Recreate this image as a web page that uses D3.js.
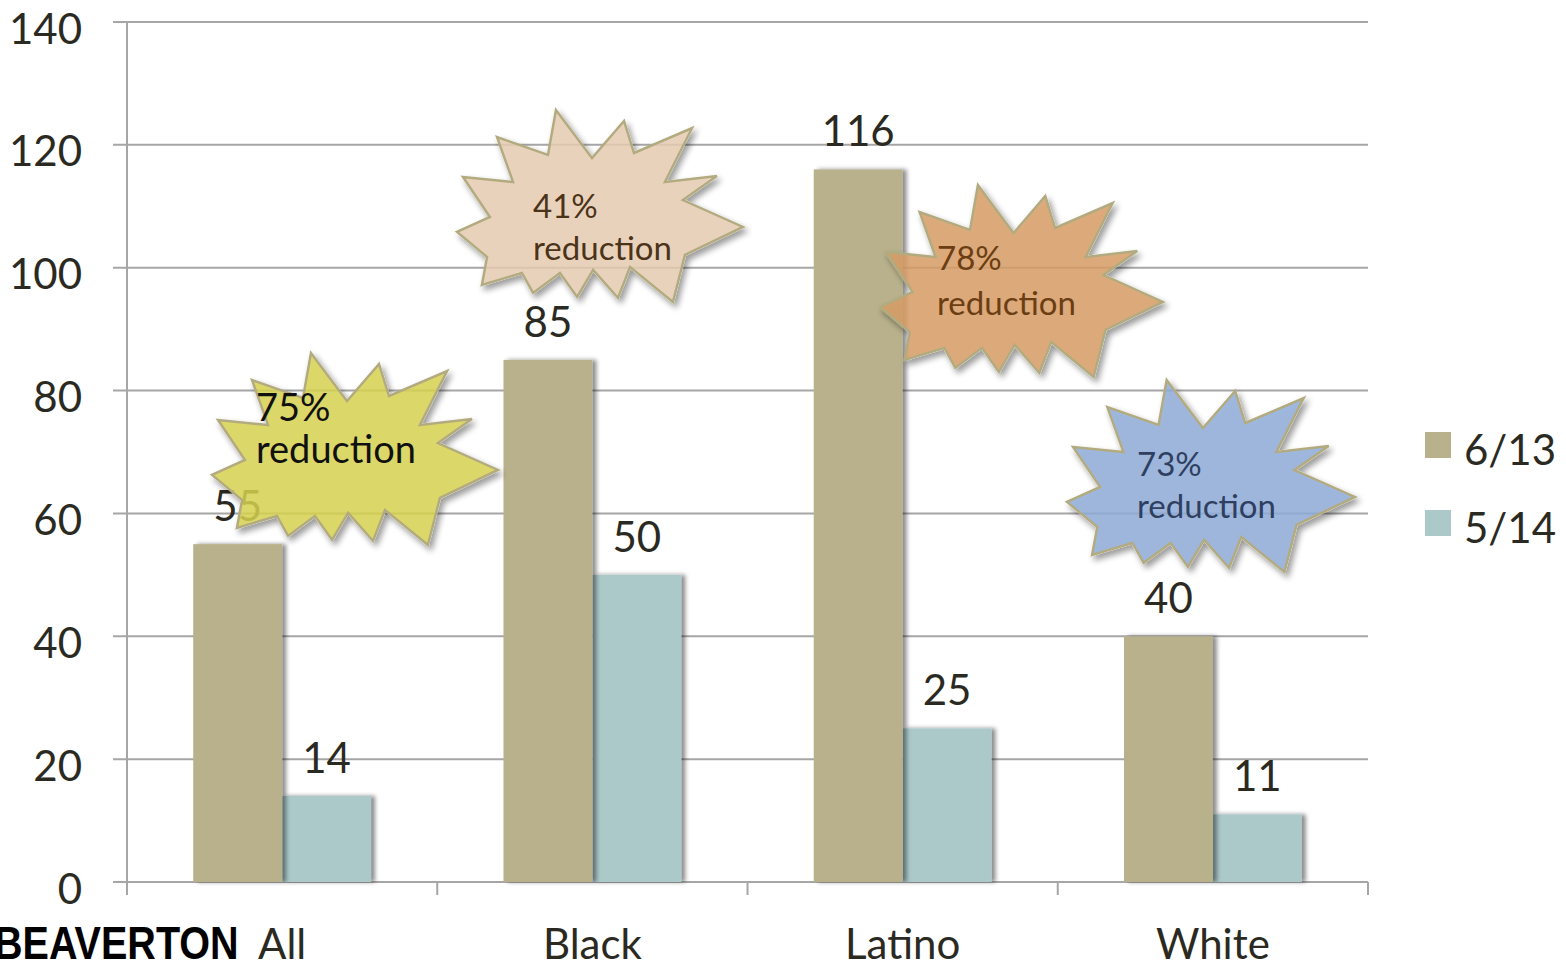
<!DOCTYPE html>
<html>
<head>
<meta charset="utf-8">
<script src="https://cdn.jsdelivr.net/npm/d3@7"></script>
<style>
  body { margin: 0; background: #fff; overflow: hidden; }
  svg { display: block; }
</style>
</head>
<body>
<svg id="chart" width="1566" height="965"></svg>
<script>
// data
const categories = ["All", "Black", "Latino", "White"];
const seriesNames = ["6/13", "5/14"];
const june13 = [55, 85, 116, 40];
const may14 = [14, 50, 25, 11];
const yTicks = [0, 20, 40, 60, 80, 100, 120, 140];
const calloutPct = ["75%", "41%", "78%", "73%"];
const calloutWord = "reduction";
const brand = "BEAVERTON";

// layout
const W = 1566, H = 965;
const margin = {top: 22, right: 198, bottom: 83, left: 127};
const textColor = "#2b2a22";
const gridColor = "#a6a6a6";
const barColors = ["#b8b18c", "#acc9ca"];

// explosion shape, normalised to its box (clockwise from top spike)
const burst = [
  [0.346, 0], [0.472, 0.25], [0.584, 0.057], [0.619, 0.224], [0.822, 0.094],
  [0.727, 0.375], [0.909, 0.344], [0.79, 0.469], [1, 0.609], [0.797, 0.755],
  [0.755, 1], [0.605, 0.818], [0.563, 0.979], [0.476, 0.833], [0.42, 0.974],
  [0.36, 0.849], [0.266, 0.953], [0.227, 0.849], [0.087, 0.911], [0.105, 0.766],
  [0, 0.635], [0.115, 0.557], [0.021, 0.349], [0.196, 0.375], [0.14, 0.141],
  [0.318, 0.234]
];
// callout boxes and text placement
const calloutLayout = [
  {x: 212, y: 353, w: 286, h: 192, fill: "#d6d14f", ink: "#111111", tx: 44, b1: 68, b2: 110, fs: 38},
  {x: 457, y: 110, w: 286, h: 192, fill: "#e6cbb2", ink: "#4b3319", tx: 76, b1: 108, b2: 150, fs: 33},
  {x: 880, y: 185, w: 283, h: 192, fill: "#d69c64", ink: "#6b3d12", tx: 57, b1: 85, b2: 130, fs: 33},
  {x: 1067, y: 380, w: 288, h: 192, fill: "#8eaad6", ink: "#2e3f61", tx: 70, b1: 96, b2: 138, fs: 33}
];

const svg = d3.select("#chart");
const defs = svg.append("defs");
defs.append("filter").attr("id", "barShadow")
  .attr("x", "-10%").attr("y", "-10%").attr("width", "130%").attr("height", "120%")
  .append("feDropShadow")
  .attr("dx", 4).attr("dy", 0).attr("stdDeviation", 2)
  .attr("flood-color", "#000").attr("flood-opacity", 0.45);

// shadow only outside the burst so the translucent fill stays light
const bf = defs.append("filter").attr("id", "burstShadow")
  .attr("x", "-10%").attr("y", "-10%").attr("width", "130%").attr("height", "130%");
bf.append("feGaussianBlur").attr("in", "SourceAlpha").attr("stdDeviation", 3).attr("result", "blur");
bf.append("feOffset").attr("in", "blur").attr("dx", 3).attr("dy", 4).attr("result", "off");
bf.append("feComponentTransfer").attr("in", "off").attr("result", "soft")
  .append("feFuncA").attr("type", "linear").attr("slope", 0.45);
bf.append("feComposite").attr("in", "soft").attr("in2", "SourceAlpha")
  .attr("operator", "out").attr("result", "shadow");
const bm = bf.append("feMerge");
bm.append("feMergeNode").attr("in", "shadow");
bm.append("feMergeNode").attr("in", "SourceGraphic");

const x0 = d3.scaleBand()
  .domain(categories)
  .range([margin.left, W - margin.right])
  .paddingInner(0.427)
  .paddingOuter(0.2135);
const x1 = d3.scaleBand()
  .domain(seriesNames)
  .range([0, x0.bandwidth()]);
const y = d3.scaleLinear()
  .domain([0, 140])
  .range([H - margin.bottom, margin.top]);

// grid lines
svg.append("g")
  .selectAll("line")
  .data(yTicks)
  .join("line")
    .attr("x1", margin.left - 14)
    .attr("x2", W - margin.right)
    .attr("y1", d => y(d))
    .attr("y2", d => y(d))
    .attr("stroke", gridColor)
    .attr("stroke-width", 2);

// y axis line
svg.append("line")
  .attr("x1", margin.left).attr("x2", margin.left)
  .attr("y1", y(140)).attr("y2", y(0) + 13)
  .attr("stroke", gridColor).attr("stroke-width", 2);

// category boundary ticks
const edges = d3.range(categories.length + 1).map(i => x0.range()[0] + i * x0.step());
svg.append("g")
  .selectAll("line")
  .data(edges)
  .join("line")
    .attr("x1", d => d).attr("x2", d => d)
    .attr("y1", y(0)).attr("y2", y(0) + 13)
    .attr("stroke", gridColor).attr("stroke-width", 2);

// y labels
const yAxis = svg.append("g")
  .attr("transform", `translate(${margin.left},0)`)
  .call(d3.axisLeft(y).tickValues(yTicks).tickSize(0).tickPadding(45));
yAxis.select(".domain").remove();
yAxis.selectAll("text")
  .attr("dy", "0.5em")
  .style("font-family", "Lato, sans-serif")
  .style("font-size", "42px")
  .attr("fill", textColor);

// x labels
const xAxis = svg.append("g")
  .attr("transform", `translate(0,${y(0)})`)
  .call(d3.axisBottom(x0).tickSize(0).tickPadding(77));
xAxis.select(".domain").remove();
xAxis.selectAll("text")
  .attr("dy", "0")
  .style("font-family", "Lato, sans-serif")
  .style("font-size", "42px")
  .attr("fill", textColor);

// bars
const rows = categories.map((c, i) => ({cat: c, values: [june13[i], may14[i]]}));
const groups = svg.append("g")
  .selectAll("g")
  .data(rows)
  .join("g")
    .attr("transform", d => `translate(${x0(d.cat)},0)`);

groups.selectAll("rect")
  .data(d => d.values.map((v, j) => ({key: seriesNames[j], v: v, j: j})).reverse())
  .join("rect")
    .attr("x", d => x1(d.key))
    .attr("y", d => y(d.v))
    .attr("width", x1.bandwidth())
    .attr("height", d => y(0) - y(d.v))
    .attr("fill", d => barColors[d.j])
    .attr("filter", "url(#barShadow)");

groups.selectAll("text")
  .data(d => d.values.map((v, j) => ({key: seriesNames[j], v: v})))
  .join("text")
    .attr("x", d => x1(d.key) + x1.bandwidth() / 2)
    .attr("y", d => y(d.v) - 23)
    .attr("text-anchor", "middle")
    .style("font-family", "Lato, sans-serif")
    .style("font-size", "42px")
    .attr("fill", textColor)
    .text(d => d.v);

// legend
const legend = svg.append("g")
  .attr("transform", "translate(1425,432)");
const item = legend.selectAll("g")
  .data(seriesNames)
  .join("g")
    .attr("transform", (d, i) => `translate(0,${i * 78})`);
item.append("rect")
  .attr("width", 26).attr("height", 26)
  .attr("fill", (d, i) => barColors[i]);
item.append("text")
  .attr("x", 39).attr("y", 33)
  .style("font-family", "Lato, sans-serif")
  .style("font-size", "42px")
  .attr("fill", textColor)
  .text(d => d);

// callout bursts
const bursts = svg.append("g")
  .selectAll("g")
  .data(calloutPct.map((p, i) => ({pct: p, ...calloutLayout[i]})))
  .join("g")
    .attr("transform", d => `translate(${d.x},${d.y})`);

bursts.append("path")
  .attr("d", d => d3.line()(burst.map(p => [p[0] * d.w, p[1] * d.h])) + "Z")
  .attr("fill", d => d.fill)
  .attr("fill-opacity", 0.85)
  .attr("stroke", "#b3ab80")
  .attr("stroke-width", 2.5)
  .attr("stroke-linejoin", "miter")
  .attr("filter", "url(#burstShadow)");

bursts.append("text")
  .attr("x", d => d.tx).attr("y", d => d.b1)
  .style("font-family", "Lato, sans-serif")
  .style("font-size", d => d.fs + "px")
  .attr("fill", d => d.ink)
  .text(d => d.pct);
bursts.append("text")
  .attr("x", d => d.tx).attr("y", d => d.b2)
  .style("font-family", "Lato, sans-serif")
  .style("font-size", d => d.fs + "px")
  .attr("fill", d => d.ink)
  .text(calloutWord);

// brand mark bottom left, squeezed horizontally
svg.append("text")
  .attr("transform", "translate(-6,959) scale(0.86,1)")
  .style("font-family", "'Liberation Sans', Arial, sans-serif")
  .style("font-weight", "bold")
  .style("font-size", "46px")
  .attr("fill", "#000")
  .text(brand);
</script>
</body>
</html>
